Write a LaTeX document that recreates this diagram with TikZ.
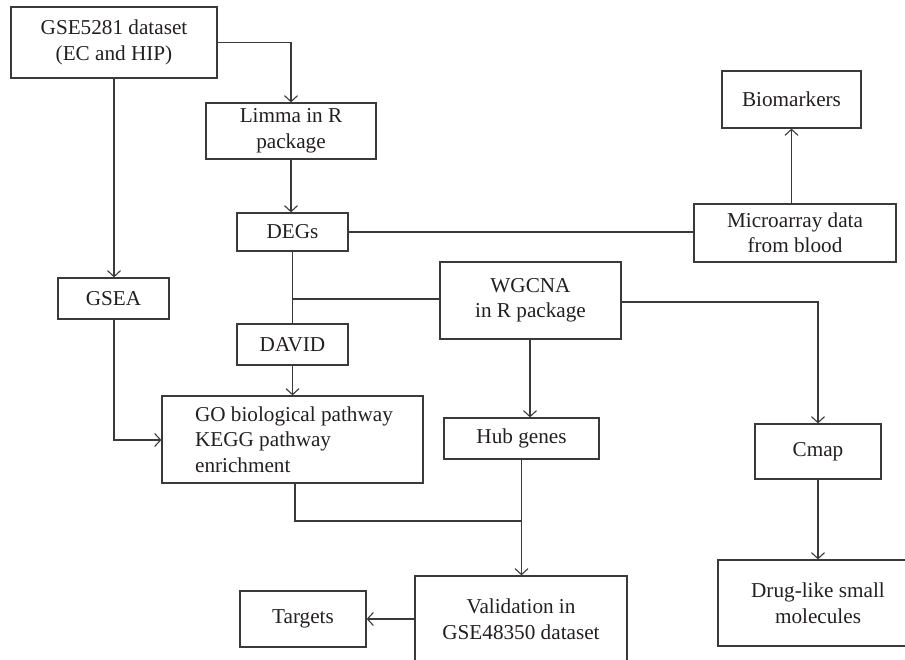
\documentclass[tikz,border=0pt]{standalone}
\usepackage{fontspec}
\setmainfont{Liberation Serif}
\usetikzlibrary{arrows.meta}
\definecolor{ln}{HTML}{3A3A3A}
\definecolor{tx}{HTML}{231F20}
\begin{document}
\begin{tikzpicture}[x=1pt,y=-1pt,
  box/.style={draw=ln,line width=1.25pt,inner sep=0pt,align=center,text=tx,
    font=\fontsize{21.2}{25.5}\selectfont},
  conn/.style={draw=ln,line width=1.25pt},
  arr/.style={conn,-{Straight Barb[length=6pt,width=13pt,line width=1.1pt]}}]
\useasboundingbox (0,0) rectangle (905,660);
\clip (0,0) rectangle (905,660);
\node[box,minimum width=206pt,minimum height=71pt] (gse) at (114,42.5) {GSE5281 dataset\\(EC and HIP)};
\node[box,minimum width=170pt,minimum height=56pt] (limma) at (291,131) {Limma in R\\package};
\node[box,minimum width=139pt,minimum height=57pt] (bio) at (791.5,99.5) {Biomarkers};
\node[box,minimum width=111pt,minimum height=38pt] (degs) at (292.5,232) {DEGs};
\node[box,minimum width=202pt,minimum height=58pt] (micro) at (795,233) {Microarray data\\from blood};
\node[box,minimum width=181pt,minimum height=77pt] (wgcna) at (530.5,300.5) {WGCNA\\in R package};
\node[box,minimum width=111pt,minimum height=41pt] (gsea) at (113.5,298.5) {GSEA};
\node[box,minimum width=111pt,minimum height=41pt] (david) at (292.5,344.5) {DAVID};
\node[box,minimum width=261pt,minimum height=87pt,align=left] (go) at (292.5,439.5)
  {\hspace*{3pt}GO biological pathway\\\hspace*{3pt}KEGG pathway\\\hspace*{3pt}enrichment};
\node[box,minimum width=155pt,minimum height=41pt] (hub) at (521.5,438.5) {Hub genes};
\node[box,minimum width=126pt,minimum height=55pt] (cmap) at (818,451.5) {Cmap};
\node[box,minimum width=126pt,minimum height=56pt] (targets) at (303,619) {Targets};
\node[box,minimum width=212pt,minimum height=86pt] (valid) at (521,619) {Validation in\\GSE48350 dataset};
\node[box,minimum width=200pt,minimum height=86pt] (drug) at (818,603) {Drug-like small\\molecules};
\coordinate (jdeg) at (292,299);
\coordinate (jgo) at (295,521);
\coordinate (jhub) at (521,521);
\coordinate (jwg) at (818,302);
\coordinate (jgs) at (114,440);
\draw[arr] (gse.east) -| (limma.north);
\draw[arr] (gse.south) -- (gse.south |- gsea.north);
\draw[arr] (limma.south) -- (limma.south |- degs.north);
\draw[conn] (degs.east) -- (micro.west |- degs.east);
\draw[arr] (bio.south |- micro.north) -- (bio.south);
\draw[conn] (degs.south) -- (degs.south |- david.north);
\draw[conn] (jdeg) -- (wgcna.west |- jdeg);
\draw[arr] (david.south) -- (david.south |- go.north);
\draw[arr] (gsea.south -| jgs) -- (jgs) -- (go.west |- jgs);
\draw[arr] (wgcna.south -| 530,0) -- (530,0 |- hub.north);
\draw[arr] (wgcna.east |- jwg) -- (jwg) -- (jwg |- cmap.north);
\draw[arr] (cmap.south) -- (cmap.south |- drug.north);
\draw[conn] (go.south -| jgo) -- (jgo) -- (jhub);
\draw[arr] (hub.south) -- (hub.south |- valid.north);
\draw[arr] (valid.west) -- (targets.east);
\end{tikzpicture}
\end{document}
